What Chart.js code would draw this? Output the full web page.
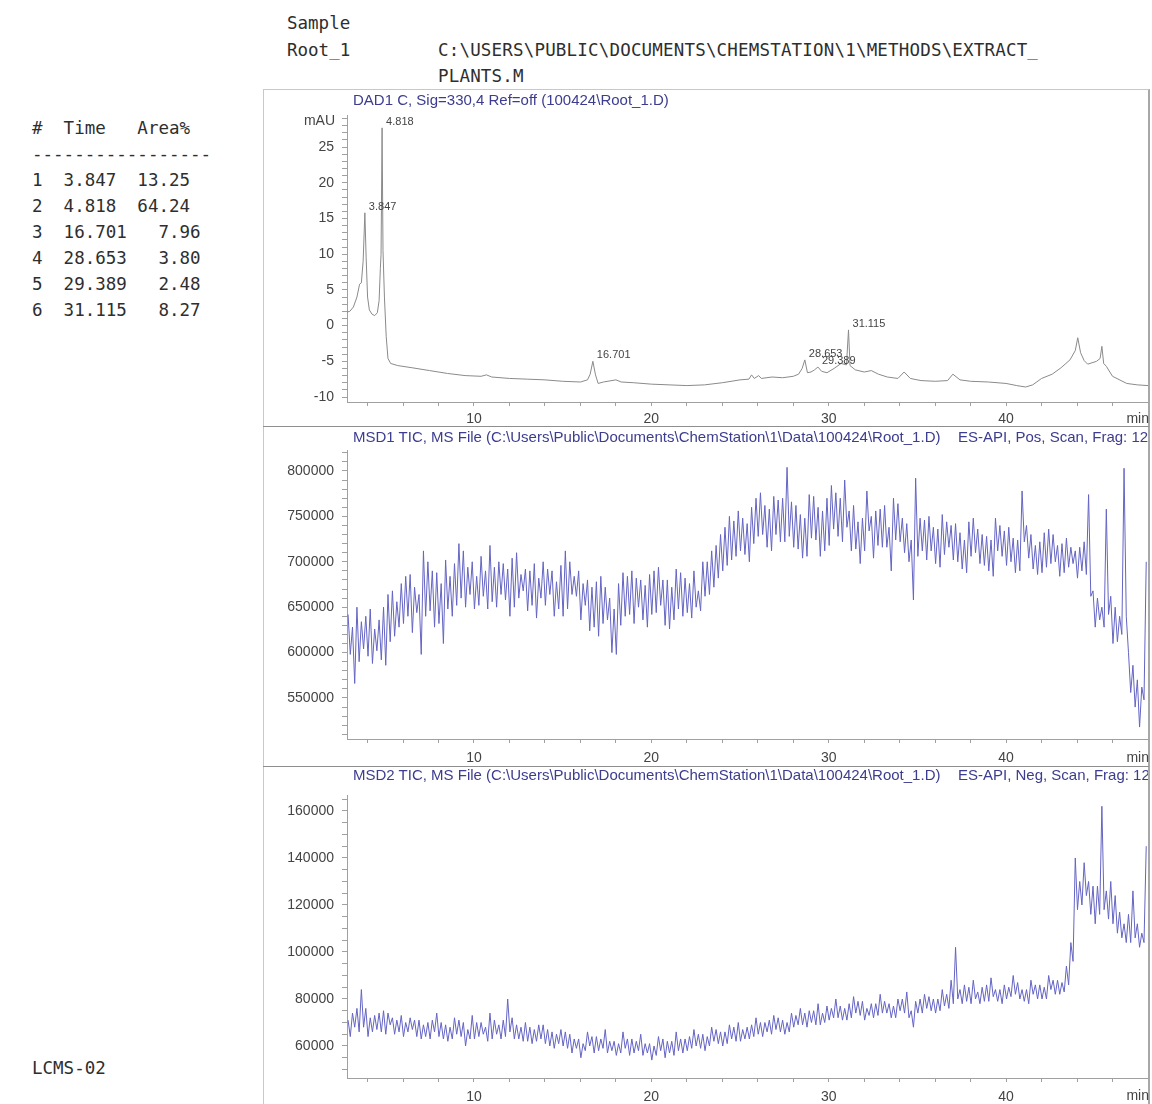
<!DOCTYPE html>
<html>
<head>
<meta charset="utf-8">
<script src="https://cdn.jsdelivr.net/npm/chart.js@4.4.1/dist/chart.umd.min.js"></script>
<style>
  body { margin: 0; background: #fff; width: 1152px; height: 1104px; overflow: hidden; position: relative;
         font-family: "Liberation Sans", Arial, sans-serif; }
  .mono { position: absolute; margin: 0; font-family: "DejaVu Sans Mono", monospace; font-size: 17.5px;
          color: #2e2e2e; white-space: pre; }
  #frame { position: absolute; left: 263px; top: 89px; width: 884px; height: 1030px;
           border-left: 1px solid #c8c8c8; border-top: 1px solid #c8c8c8; border-right: 2px solid #a8a8a8; }
  .sep { position: absolute; left: 263px; width: 886px; height: 0; border-top: 1px solid #8e8e8e; }
  canvas { position: absolute; left: 263px; }
  .ptitle { position: absolute; white-space: pre; color: #3c3c90; font-size: 15px; line-height: 16px; }
</style>
</head>
<body>
<div class="mono" style="left:287px; top:10px; line-height:26.5px;">Sample
Root_1</div>
<div class="mono" style="left:438px; top:36.5px; line-height:26.5px; letter-spacing:0.18px;">C:\USERS\PUBLIC\DOCUMENTS\CHEMSTATION\1\METHODS\EXTRACT_
PLANTS.M</div>
<div class="mono" id="peakTable" style="left:32px; top:115px; line-height:26px;"></div>
<div class="mono" style="left:32px; top:1058px;">LCMS-02</div>

<div id="frame"></div>
<div class="sep" style="top:426px;"></div>
<div class="sep" style="top:766px;"></div>

<canvas id="dad" width="886" height="336" style="top:90px;"></canvas>
<canvas id="msd1" width="886" height="339" style="top:427px;"></canvas>
<canvas id="msd2" width="886" height="337" style="top:767px;"></canvas>

<div class="ptitle" style="left:353px; top:92px;">DAD1 C, Sig=330,4 Ref=off (100424\Root_1.D)</div>
<div class="ptitle" style="left:353px; top:429px;">MSD1 TIC, MS File (C:\Users\Public\Documents\ChemStation\1\Data\100424\Root_1.D)</div>
<div class="ptitle" style="left:958px; top:429px; width:190px; overflow:hidden;">ES-API, Pos, Scan, Frag: 125</div>
<div class="ptitle" style="left:353px; top:767px;">MSD2 TIC, MS File (C:\Users\Public\Documents\ChemStation\1\Data\100424\Root_1.D)</div>
<div class="ptitle" style="left:958px; top:767px; width:190px; overflow:hidden;">ES-API, Neg, Scan, Frag: 125</div>

<script>
// integration results (DAD1 C)
const peakTimes = [3.847, 4.818, 16.701, 28.653, 29.389, 31.115];
const peakAreas = [13.25, 64.24, 7.96, 3.80, 2.48, 8.27];
const peakApex  = [15.8, 27.7, -5.0, -4.8, -5.8, -0.6];   // mAU at the apex

// DAD1 C trace, min / mAU
const dadTimes = [2.84, 3.0, 3.2, 3.4, 3.55, 3.65, 3.75, 3.847, 3.92, 4.0, 4.1, 4.25, 4.4, 4.55, 4.65, 4.72, 4.76, 4.818,
  4.87, 4.95, 5.05, 5.15, 5.3, 5.7, 6.5, 7.5, 8.5, 9.5, 10.4, 10.7, 11.0, 12.0, 13.0, 14.0, 15.0, 16.0, 16.4, 16.55,
  16.701, 16.85, 17.0, 17.3, 18.0, 18.3, 19.0, 20.0, 21.0, 22.0, 23.0, 24.0, 25.0, 25.5, 25.65, 25.8, 26.05, 26.2,
  26.8, 27.4, 28.0, 28.3, 28.5, 28.653, 28.8, 29.0, 29.2, 29.389, 29.6, 29.9, 30.3, 30.7, 31.0, 31.115, 31.2, 31.5,
  32.0, 32.4, 32.8, 33.3, 33.9, 34.25, 34.6, 35.2, 36.0, 36.7, 37.0, 37.4, 38.0, 39.0, 40.0, 40.6, 41.1, 41.5, 42.0,
  42.6, 43.1, 43.6, 43.9, 44.04, 44.2, 44.4, 44.6, 45.1, 45.3, 45.4, 45.5, 45.65, 46.0, 46.8, 47.4, 48.0];
const dadSignal = [1.9, 2.0, 2.6, 4.0, 5.8, 6.0, 9.0, 15.8, 9.5, 4.0, 2.2, 1.6, 1.4, 1.8, 3.5, 8.0, 10.0, 27.7,
  10.5, 4.0, -1.5, -4.6, -5.3, -5.6, -5.9, -6.3, -6.7, -7.0, -7.1, -6.9, -7.2, -7.4, -7.5, -7.6, -7.8, -7.9, -7.6, -6.8,
  -5.0, -6.9, -8.1, -7.9, -7.6, -7.9, -8.0, -8.2, -8.3, -8.4, -8.3, -8.0, -7.6, -7.5, -6.9, -7.4, -7.0, -7.4,
  -7.2, -7.3, -7.1, -6.8, -6.0, -4.8, -6.6, -6.5, -6.2, -5.8, -6.4, -6.6, -6.0, -5.3, -5.5, -0.6, -5.6, -6.2,
  -6.5, -6.3, -6.8, -7.2, -7.4, -6.5, -7.4, -7.7, -7.8, -7.7, -6.8, -7.6, -7.8, -7.9, -8.1, -8.4, -8.6, -8.3, -7.4,
  -6.8, -5.9, -4.8, -3.5, -1.7, -3.8, -4.9, -5.4, -5.0, -4.6, -2.9, -5.3, -5.7, -7.1, -8.1, -8.3, -8.4];

// TIC scans, one value every 0.125 min from 2.9 min (8 values per line = 1 min)
const msdStart = 2.9;
const msdStep = 0.125;
const msd1Tic = [
  642000, 598000, 628000, 566000, 650000, 590000, 634000, 604000,
  640000, 596000, 648000, 588000, 626000, 602000, 636000, 592000,
  650000, 586000, 664000, 612000, 668000, 618000, 656000, 628000,
  676000, 632000, 684000, 640000, 686000, 622000, 672000, 644000,
  664000, 598000, 712000, 640000, 700000, 646000, 690000, 628000,
  688000, 632000, 676000, 610000, 702000, 648000, 684000, 640000,
  698000, 652000, 720000, 660000, 712000, 650000, 694000, 664000,
  700000, 648000, 684000, 652000, 706000, 662000, 690000, 648000,
  718000, 656000, 694000, 650000, 700000, 664000, 698000, 658000,
  692000, 640000, 704000, 650000, 710000, 660000, 686000, 668000,
  692000, 646000, 690000, 652000, 698000, 638000, 682000, 660000,
  700000, 652000, 692000, 664000, 690000, 640000, 678000, 648000,
  696000, 640000, 712000, 648000, 700000, 664000, 684000, 662000,
  690000, 636000, 676000, 652000, 680000, 624000, 672000, 628000,
  678000, 618000, 684000, 632000, 672000, 636000, 660000, 600000,
  648000, 598000, 676000, 630000, 688000, 640000, 684000, 642000,
  690000, 632000, 682000, 650000, 680000, 636000, 674000, 628000,
  686000, 642000, 690000, 644000, 694000, 652000, 680000, 630000,
  680000, 626000, 672000, 636000, 692000, 648000, 688000, 640000,
  682000, 644000, 676000, 638000, 690000, 650000, 668000, 646000,
  700000, 662000, 700000, 664000, 712000, 672000, 718000, 682000,
  730000, 690000, 738000, 696000, 750000, 702000, 745000, 706000,
  756000, 712000, 748000, 708000, 742000, 700000, 760000, 720000,
  770000, 728000, 776000, 730000, 762000, 716000, 758000, 712000,
  772000, 730000, 768000, 722000, 770000, 722000, 804000, 728000,
  766000, 716000, 762000, 714000, 752000, 704000, 748000, 706000,
  774000, 726000, 772000, 724000, 760000, 706000, 756000, 712000,
  770000, 718000, 784000, 736000, 776000, 728000, 770000, 722000,
  790000, 738000, 756000, 712000, 762000, 714000, 744000, 698000,
  748000, 712000, 778000, 734000, 750000, 704000, 756000, 718000,
  758000, 716000, 762000, 716000, 738000, 690000, 770000, 724000,
  764000, 722000, 748000, 710000, 742000, 700000, 724000, 658000,
  792000, 706000, 748000, 712000, 746000, 702000, 750000, 712000,
  738000, 698000, 736000, 694000, 752000, 708000, 744000, 716000,
  740000, 702000, 742000, 700000, 732000, 692000, 724000, 688000,
  744000, 706000, 748000, 710000, 736000, 698000, 730000, 696000,
  728000, 690000, 724000, 684000, 748000, 712000, 740000, 706000,
  734000, 696000, 738000, 700000, 726000, 688000, 724000, 690000,
  778000, 722000, 740000, 704000, 730000, 692000, 718000, 686000,
  722000, 688000, 732000, 694000, 736000, 698000, 730000, 700000,
  718000, 684000, 720000, 688000, 726000, 694000, 716000, 698000,
  712000, 682000, 716000, 690000, 722000, 686000, 774000, 662000,
  668000, 628000, 660000, 636000, 650000, 628000, 758000, 642000,
  662000, 610000, 650000, 612000, 640000, 620000, 803000, 640000,
  600000, 556000, 586000, 540000, 570000, 518000, 562000, 548000,
  700000];
const msd2Tic = [
  71000, 64000, 74000, 68000, 76000, 66000, 84000, 68000,
  76000, 64000, 72000, 66000, 73000, 67000, 74000, 66000,
  75000, 65000, 74000, 69000, 72000, 65000, 71000, 66000,
  73000, 64000, 70000, 66000, 72000, 67000, 71000, 64000,
  71000, 63000, 69000, 64000, 70000, 63000, 71000, 66000,
  74000, 64000, 70000, 63000, 69000, 62000, 68000, 63000,
  72000, 65000, 71000, 64000, 70000, 60000, 67000, 63000,
  73000, 63000, 70000, 64000, 70000, 65000, 68000, 62000,
  74000, 63000, 71000, 65000, 69000, 63000, 71000, 64000,
  80000, 66000, 72000, 63000, 69000, 63000, 68000, 62000,
  70000, 62000, 68000, 61000, 67000, 62000, 69000, 63000,
  69000, 61000, 67000, 60000, 66000, 59000, 65000, 61000,
  67000, 60000, 66000, 59000, 65000, 57000, 63000, 59000,
  63000, 55000, 61000, 58000, 66000, 60000, 64000, 57000,
  64000, 58000, 63000, 59000, 67000, 57000, 62000, 58000,
  62000, 56000, 61000, 57000, 66000, 59000, 63000, 56000,
  63000, 57000, 62000, 58000, 65000, 56000, 61000, 57000,
  61000, 54000, 60000, 56000, 64000, 58000, 63000, 55000,
  62000, 57000, 62000, 56000, 66000, 58000, 63000, 57000,
  63000, 58000, 64000, 59000, 67000, 60000, 65000, 59000,
  65000, 58000, 64000, 60000, 68000, 62000, 67000, 61000,
  66000, 60000, 66000, 61000, 69000, 63000, 68000, 62000,
  70000, 62000, 67000, 63000, 68000, 63000, 69000, 64000,
  72000, 65000, 70000, 64000, 70000, 66000, 71000, 65000,
  73000, 67000, 72000, 66000, 71000, 65000, 70000, 66000,
  74000, 68000, 73000, 69000, 76000, 69000, 74000, 68000,
  75000, 70000, 75000, 69000, 78000, 69000, 74000, 70000,
  77000, 71000, 76000, 72000, 80000, 72000, 77000, 71000,
  76000, 71000, 78000, 72000, 81000, 74000, 79000, 73000,
  79000, 71000, 76000, 73000, 78000, 72000, 78000, 73000,
  82000, 74000, 79000, 74000, 78000, 72000, 77000, 72000,
  80000, 75000, 80000, 74000, 83000, 72000, 75000, 68000,
  79000, 74000, 80000, 74000, 82000, 76000, 81000, 75000,
  80000, 74000, 80000, 75000, 84000, 77000, 82000, 76000,
  88000, 78000, 102000, 80000, 84000, 78000, 86000, 79000,
  85000, 78000, 88000, 80000, 83000, 78000, 85000, 79000,
  86000, 79000, 89000, 81000, 84000, 79000, 84000, 78000,
  86000, 80000, 85000, 81000, 90000, 82000, 87000, 80000,
  84000, 79000, 84000, 78000, 88000, 82000, 86000, 80000,
  86000, 80000, 85000, 80000, 90000, 84000, 88000, 82000,
  88000, 82000, 87000, 83000, 94000, 86000, 104000, 96000,
  140000, 118000, 130000, 120000, 138000, 124000, 130000, 116000,
  128000, 112000, 128000, 116000, 162000, 118000, 126000, 114000,
  130000, 112000, 124000, 108000, 117000, 106000, 112000, 104000,
  116000, 104000, 126000, 106000, 112000, 102000, 108000, 104000,
  145000];

// side table
const fmtArea = a => a.toFixed(2).padStart(5);
document.getElementById('peakTable').textContent =
  '#  Time   Area%\n' + '-'.repeat(17) + '\n' +
  peakTimes.map((t, i) => `${i + 1}  ${t.toFixed(3)}  ${fmtArea(peakAreas[i])}`).join('\n');

const tickFont = { family: '"Liberation Sans", Arial, sans-serif', size: 14 };
const axisGrey = '#a0a0a0';

// tick marks on every step inside the range (the right/top edge itself gets none)
const stepTicks = step => s => {
  const out = [];
  for (let v = Math.ceil(s.min / step) * step; v < s.max - step / 4; v += step) out.push({ value: v });
  s.ticks = out;
};

const unitLabels = {
  id: 'unitLabels',
  afterDraw(chart, args, opts) {
    const { ctx, chartArea } = chart;
    ctx.save();
    ctx.font = '14px "Liberation Sans", Arial, sans-serif';
    ctx.fillStyle = '#444';
    ctx.textBaseline = 'middle';
    ctx.textAlign = 'right';
    ctx.fillText('min', chartArea.right + 1, chartArea.bottom + opts.labelGap);
    if (opts.yUnit) ctx.fillText(opts.yUnit, chartArea.left - 12, chartArea.top + 6);
    ctx.restore();
  }
};

const peakLabels = {
  id: 'peakLabels',
  afterDatasetsDraw(chart) {
    const { ctx, scales } = chart;
    ctx.save();
    ctx.font = '11px "Liberation Sans", Arial, sans-serif';
    ctx.fillStyle = '#444';
    ctx.textBaseline = 'middle';
    peakTimes.forEach((t, i) => {
      const px = scales.x.getPixelForValue(t);
      const py = scales.y.getPixelForValue(peakApex[i]);
      ctx.fillText(t.toFixed(3), px + 4, py - 6);
    });
    ctx.restore();
  }
};

function makePanel(id, points, color, yMin, yMax, yStep, labelEvery, padTop, xHeight, xPad, extra) {
  return new Chart(document.getElementById(id), {
    type: 'line',
    data: {
      datasets: [{
        data: points,
        borderColor: color,
        borderWidth: 1,
        pointRadius: 0,
        tension: 0,
        fill: false
      }]
    },
    options: {
      responsive: false,
      animation: false,
      layout: { padding: { top: padTop, right: 1, left: 0, bottom: 0 } },
      plugins: { legend: { display: false }, tooltip: { enabled: false }, unitLabels: extra },
      scales: {
        x: {
          type: 'linear', min: 2.84, max: 48,
          border: { color: axisGrey },
          grid: { drawOnChartArea: false, tickLength: 4, tickColor: axisGrey },
          ticks: {
            autoSkip: false, maxRotation: 0, padding: xPad,
            font: tickFont, color: '#444',
            callback: v => (Math.round(v) % 10 === 0 ? String(Math.round(v)) : '')
          },
          afterBuildTicks: stepTicks(2),
          afterFit: s => { s.height = xHeight; }
        },
        y: {
          min: yMin, max: yMax,
          border: { color: axisGrey },
          grid: { drawOnChartArea: false, tickLength: 5, tickColor: axisGrey },
          ticks: {
            autoSkip: false, padding: 8,
            font: tickFont, color: '#444',
            callback: v => (Math.round(v) % labelEvery === 0 ? String(Math.round(v)) : '')
          },
          afterBuildTicks: stepTicks(yStep),
          afterFit: s => { s.width = 84; }
        }
      }
    },
    plugins: id === 'dad' ? [unitLabels, peakLabels] : [unitLabels]
  });
}

const dadPoints = dadTimes.map((t, i) => ({ x: t, y: dadSignal[i] }));
const msd1Points = msd1Tic.map((v, i) => ({ x: msdStart + i * msdStep, y: v }));
const msd2Points = msd2Tic.map((v, i) => ({ x: msdStart + i * msdStep, y: v }));

makePanel('dad', dadPoints, '#8a8a8a', -10.7, 29.5, 1, 5, 25, 24, 5, { labelGap: 17, yUnit: 'mAU' });
makePanel('msd1', msd1Points, '#6464c4', 504850, 823100, 10000, 50000, 23, 27, 7, { labelGap: 19 });
makePanel('msd2', msd2Points, '#6464c4', 46380, 166800, 5000, 20000, 28, 26, 7, { labelGap: 18 });
</script>
</body>
</html>
